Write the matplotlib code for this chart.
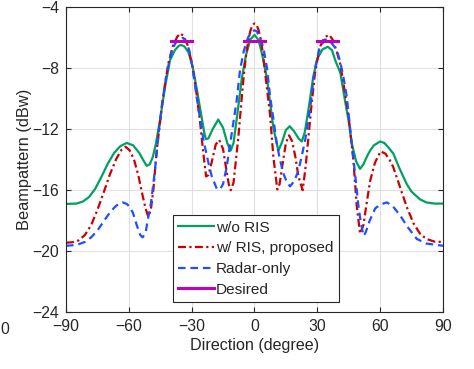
import matplotlib
matplotlib.use("Agg")
import matplotlib.pyplot as plt

plt.rcParams['font.family'] = ['Liberation Sans', 'DejaVu Sans']

# w/o RIS (green)
ang_g = [-90, -85, -82, -79, -76, -73, -70, -67, -64, -61, -58, -55, -53, -51.5, -50, -48.5, -47, -45,
         -42.7, -40.3, -38, -36, -35, -33.5, -31.5, -29.5, -27.5, -25.5, -24, -23.2, -22, -20, -17.3, -15,
         -13, -11.4, -10, -8, -6, -4, -2, 0, 2, 4, 6, 7.5, 9, 11.4, 13, 15, 16.8, 19, 21, 22.6, 24, 26, 28,
         30, 32.5, 35, 37, 38.5, 41, 43.2, 45, 46.4, 48.5, 50.4, 52, 54, 55.2, 57, 60, 62, 64, 66.3, 69,
         72.7, 75, 79, 82, 86, 90]
val_g = [-16.9, -16.88, -16.75, -16.45, -15.9, -15.1, -14.25, -13.55, -13.1, -12.9, -13.05, -13.55,
         -14.05, -14.4, -14.3, -13.8, -12.9, -11.3, -9.2, -7.45, -6.8, -6.5, -6.47, -6.55, -6.95, -7.9,
         -9.4, -11.0, -12.2, -12.65, -12.6, -12.0, -11.36, -11.9, -12.9, -13.4, -12.9, -10.8, -8.6, -7.1,
         -6.1, -5.8, -6.15, -7.3, -8.7, -10.3, -11.9, -13.4, -12.9, -12.05, -11.8, -12.15, -12.6, -12.8,
         -12.2, -10.5, -8.6, -7.35, -6.75, -6.58, -6.8, -7.45, -8.3, -10.1, -11.5, -12.9, -14.1, -14.6,
         -14.3, -13.7, -13.4, -13.05, -12.8, -12.9, -13.2, -13.6, -14.5, -15.6, -16.1, -16.6, -16.8,
         -16.88, -16.88]

# w/ RIS, proposed (red)
ang_r = [-90, -87, -84, -81, -78, -75, -72, -69, -66, -63.5, -61.5, -59.5, -57.5, -55.5, -53.5, -52,
         -50.7, -49.5, -48.3, -46.7, -44.3, -42.7, -41, -39, -37, -35.5, -34, -32, -30, -28, -26, -24.4,
         -23.1, -22, -20.5, -18.5, -16.8, -15, -13.5, -12.3, -11.3, -10, -9, -7.7, -6, -5, -4, -3, -2,
         -1, 0, 1, 2, 3, 4, 5.5, 7.4, 9, 10.9, 12, 13.5, 15, 16.5, 18, 19.5, 21, 23, 24.3, 25.5, 27.3, 29,
         31.2, 33.5, 35.7, 37.5, 39.5, 40.9, 42.5, 44.8, 47.2, 48.8, 50.4, 52, 53.5, 55.2, 57.5, 60.2,
         62.5, 64.5, 66.3, 69.5, 72.7, 76, 79, 82, 86, 90]
val_r = [-19.45, -19.42, -19.3, -18.95, -18.3, -17.3, -16.15, -14.95, -13.95, -13.35, -13.15, -13.4,
         -14.0, -15.0, -16.3, -17.2, -17.75, -17.3, -16.0, -13.4, -10.6, -9.0, -7.6, -6.55, -5.95, -5.7,
         -5.85, -6.45, -7.6, -9.3, -11.5, -13.6, -15.1, -15.0, -14.2, -13.0, -12.7, -13.3, -14.6, -15.6,
         -16.0, -15.5, -14.2, -12.5, -9.8, -8.3, -7.1, -6.2, -5.55, -5.15, -5.05, -5.15, -5.5, -6.1, -7.0,
         -8.8, -11.0, -13.8, -15.95, -15.6, -14.2, -12.9, -12.4, -12.8, -13.8, -15.1, -16.0, -14.6, -12.9,
         -10.3, -8.2, -6.6, -5.95, -5.8, -6.15, -7.0, -7.7, -9.0, -11.0, -14.0, -17.0, -18.85, -18.3,
         -16.9, -15.4, -14.2, -13.45, -13.6, -14.0, -14.5, -15.8, -17.1, -18.2, -18.85, -19.2, -19.38,
         -19.4]

# Radar-only (blue)
ang_b = [-90, -87, -84, -81, -78, -75, -72.5, -70, -67, -64.5, -63, -61, -59.5, -58, -56.2, -54.5,
         -53.4, -52, -51, -49.5, -48.3, -47, -45.5, -44, -42, -40, -38, -36, -34, -32.4, -31, -29.5,
         -27.6, -25.5, -24.4, -22, -20.4, -18, -16.5, -15, -13.3, -10.9, -8.5, -6.9, -5, -3, -1, 0, 1,
         2.5, 4.2, 6, 7.4, 9, 10.6, 12, 13.8, 15.5, 17, 19, 21, 22.5, 24.2, 26.5, 28.5, 31, 33.7, 36, 38,
         39.3, 41, 42.5, 44.1, 46.4, 48, 49.5, 50.4, 52, 53, 55, 57.6, 60, 63.2, 66, 69.5, 73, 77.5, 82,
         87, 90]
val_b = [-19.65, -19.62, -19.55, -19.4, -19.1, -18.65, -18.15, -17.65, -17.15, -16.85, -16.8, -16.9,
         -17.1, -17.5, -18.3, -18.95, -19.1, -18.8, -18.0, -16.9, -15.6, -14.0, -11.9, -10.2, -8.4, -7.1,
         -6.4, -6.05, -6.0, -6.25, -6.9, -8.0, -9.9, -11.7, -12.7, -14.2, -15.1, -15.9, -15.95, -15.6,
         -14.5, -12.3, -10.1, -8.1, -6.8, -5.95, -5.55, -5.5, -5.55, -5.95, -6.6, -8.0, -9.8, -11.3,
         -12.9, -13.9, -14.9, -15.5, -15.75, -15.4, -14.7, -13.8, -12.7, -10.7, -8.3, -6.65, -6.1, -6.2,
         -6.55, -6.8, -7.6, -8.6, -9.9, -12.9, -14.9, -16.9, -17.8, -19.0, -18.8, -18.0, -17.2, -16.95,
         -16.8, -17.05, -17.65, -18.4, -19.2, -19.5, -19.6, -19.65]

# Desired pattern: target sectors and level
desired_sectors = [(-40, -30), (-5, 5), (30, 40)]
desired_level = -6.2

xticks = [-90, -60, -30, 0, 30, 60, 90]
yticks = [-24, -20, -16, -12, -8, -4]

txt = '#262626'
fig = plt.figure(figsize=(4.74, 3.69), dpi=100)
ax = fig.add_axes([0.1392, 0.1545, 0.7954, 0.8252])

ax.plot(ang_g, val_g, color='#00a060', lw=1.6, label='w/o RIS')
ax.plot(ang_r, val_r, color='#cc0000', lw=1.6, ls='-.', dashes=(3.6, 1.5, 1, 1.5), label='w/ RIS, proposed')
ax.plot(ang_b, val_b, color='#1f4fff', lw=1.6, ls='--', dashes=(3.4, 2.2), label='Radar-only')
for i, (a, b) in enumerate(desired_sectors):
    ax.plot([a, b], [desired_level, desired_level], color='#c000c0', lw=2.2,
            label='Desired' if i == 0 else None)

ax.set_xlim(-90, 90)
ax.set_ylim(-24, -4)
ax.set_xticks(xticks)
ax.set_yticks(yticks)
ax.grid(True, color='#e0e0e0', lw=0.8)
ax.set_axisbelow(True)
ax.tick_params(direction='in', top=True, right=True, length=3.5, width=0.8,
               labelsize=11.3, colors=txt, pad=5)
for s in ax.spines.values():
    s.set_color(txt)
    s.set_linewidth(0.8)

ax.set_xlabel('Direction (degree)', fontsize=11.6, color=txt, labelpad=3)
ax.set_ylabel('Beampattern (dBw)', fontsize=11.8, color=txt, labelpad=0)

leg = ax.legend(loc='lower left', bbox_to_anchor=(0.284, 0.033), fontsize=11.1,
                handlelength=2.3, handletextpad=0.15, labelspacing=0.43,
                borderpad=0.35, borderaxespad=0, fancybox=False, framealpha=1)
leg.get_frame().set_edgecolor(txt)
leg.get_frame().set_linewidth(0.8)
for t in leg.get_texts():
    t.set_color(txt)

# tick label of the neighbouring panel, at the left edge
fig.text(0.0, 1 - 330 / 369, '0', fontsize=11.3, color=txt, ha='left', va='center')

fig.savefig('out.png', dpi=100)
